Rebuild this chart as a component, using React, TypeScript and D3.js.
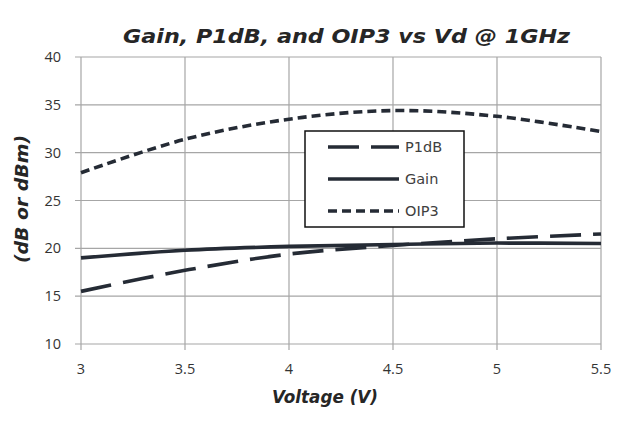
import React from "react";
import * as d3 from "d3";

const voltages = [3, 3.5, 4, 4.5, 5, 5.5];
const p1dB = [15.5, 17.7, 19.4, 20.3, 21.0, 21.5];
const gain = [19.0, 19.8, 20.2, 20.4, 20.55, 20.5];
const oip3 = [27.9, 31.4, 33.5, 34.4, 33.8, 32.2];
const xTicks = [3, 3.5, 4, 4.5, 5, 5.5];
const yTicks = [10, 15, 20, 25, 30, 35, 40];

const series = [
  { name: "P1dB", values: p1dB, dash: "31 12" },
  { name: "Gain", values: gain, dash: "none" },
  { name: "OIP3", values: oip3, dash: "9 5" },
];

export default function App() {
  const W = 617, H = 422;
  const left = 81, right = 601, top = 57, bottom = 344;
  const x = d3.scaleLinear().domain([3, 5.5]).range([left, right]);
  const y = d3.scaleLinear().domain([10, 40]).range([bottom, top]);
  const line = d3
    .line<number>()
    .x((_, i) => x(voltages[i]))
    .y((d) => y(d))
    .curve(d3.curveCatmullRom.alpha(0.5));
  const lineColor = "#252b35";
  const grid = "#a6a6a6";
  const textFont = "'DejaVu Sans', 'Open Sans', sans-serif";
  const tickFont = "'Open Sans', 'Liberation Sans', sans-serif";
  return (
    <svg width={W} height={H} style={{ position: "absolute", left: 0, top: 0, background: "#fff" }}>
      <text x={123} y={43} textLength={447} lengthAdjust="spacingAndGlyphs" fontFamily={textFont} fontWeight="bold" fontStyle="italic" fontSize={20} fill="#262626">
        Gain, P1dB, and OIP3 vs Vd @ 1GHz
      </text>
      {yTicks.map((t) => (
        <g key={"y" + t}>
          <line x1={left - 6} x2={right} y1={y(t)} y2={y(t)} stroke={grid} strokeWidth={1.2} />
          <text x={61} y={y(t) + 5} textAnchor="end" fontFamily={tickFont} fontSize={14.5} fill="#333">
            {t}
          </text>
        </g>
      ))}
      {xTicks.map((t) => (
        <g key={"x" + t}>
          <line x1={x(t)} x2={x(t)} y1={top} y2={bottom + 6} stroke={grid} strokeWidth={1.2} />
          <text x={x(t)} y={bottom + 30} textAnchor="middle" fontFamily={tickFont} fontSize={14.5} fill="#333">
            {t}
          </text>
        </g>
      ))}
      {series.map((s) => (
        <path key={s.name} d={line(s.values) || ""} fill="none" stroke={lineColor} strokeWidth={3.6} strokeDasharray={s.dash} />
      ))}
      <rect x={305} y={131} width={159} height={96} fill="#fff" stroke="#111" strokeWidth={1.5} />
      {series.map((s, i) => (
        <g key={"l" + s.name}>
          <line x1={328} x2={399} y1={147 + i * 32} y2={147 + i * 32} stroke={lineColor} strokeWidth={3.6} strokeDasharray={s.dash} />
          <text x={405} y={152 + i * 32} fontFamily={textFont} fontSize={14.5} fill="#404040">
            {s.name}
          </text>
        </g>
      ))}
      <text x={272} y={403} textLength={106} lengthAdjust="spacingAndGlyphs" fontFamily={textFont} fontWeight="bold" fontStyle="italic" fontSize={17} fill="#262626">
        Voltage (V)
      </text>
      <text transform="translate(28,263) rotate(-90)" textLength={128} lengthAdjust="spacingAndGlyphs" fontFamily={textFont} fontWeight="bold" fontStyle="italic" fontSize={17} fill="#262626">
        (dB or dBm)
      </text>
    </svg>
  );
}
